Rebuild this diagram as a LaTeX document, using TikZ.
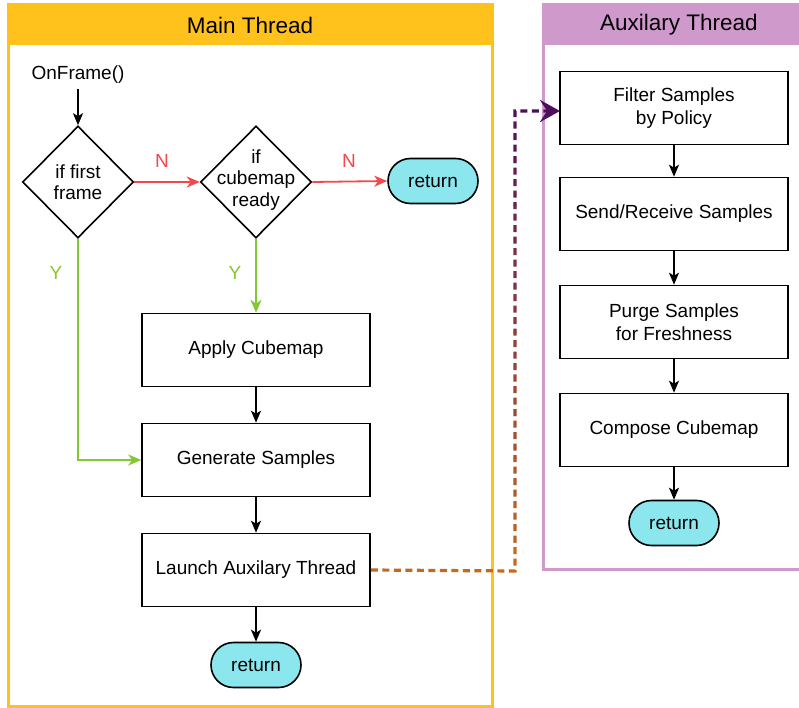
\documentclass[tikz,border=0pt]{standalone}
\usepackage{fontspec}
\setmainfont{Liberation Sans}
\usetikzlibrary{shapes.geometric,shapes.misc,arrows.meta}
\definecolor{mainyel}{HTML}{FFC21C}
\definecolor{auxpink}{HTML}{D099CB}
\definecolor{retcyan}{HTML}{8BE6EE}
\definecolor{nred}{HTML}{F5474B}
\definecolor{ygreen}{HTML}{82C832}
\definecolor{dashA}{HTML}{C46A1E}
\definecolor{dashB}{HTML}{4E0E5C}
\begin{document}
\begin{tikzpicture}[x=1pt,y=-1pt,
  font=\fontsize{19}{23}\selectfont,
  box/.style={draw, line width=1.6pt, minimum width=228pt, minimum height=73pt, align=center, inner sep=0pt},
  ret/.style={draw, line width=1.6pt, fill=retcyan, rounded rectangle, minimum width=90pt, minimum height=45pt, inner sep=0pt},
  dia/.style={draw, diamond, line width=1.6pt, minimum width=111pt, minimum height=112pt, inner sep=0pt},
  diatext/.style={align=center, font=\fontsize{19}{21.5}\selectfont, inner sep=0pt},
  head/.style={font=\fontsize{22.5}{26}\selectfont},
  flow/.style={line width=1.8pt, -{Stealth[length=12pt,width=10pt,inset=3pt]}},
  nflow/.style={line width=1.8pt, nred, -{Stealth[length=13pt,width=11pt,inset=4pt]}},
  yflow/.style={line width=1.8pt, ygreen, -{Stealth[length=13pt,width=11pt,inset=4pt]}},
  lbl/.style={font=\fontsize{19}{23}\selectfont, inner sep=0pt},
  dconn/.style={line width=3.2pt, dash pattern=on 7pt off 4.5pt},
]
\useasboundingbox (0,0) rectangle (799,708);
\fill[white] (0,0) rectangle (799,708);

% lanes
\fill[mainyel] (8,5) rectangle (492,45);
\draw[mainyel, line width=3pt] (8,5) rectangle (492,706);
\node[head] (mainhd) at (250,25) {Main Thread};

\fill[auxpink] (543,5) rectangle (799,45);
\draw[auxpink, line width=3pt] (543,5) rectangle (812,569);
\node[head] (auxhd) at (679,25) {Auxilary Thread};

% main thread nodes
\node[lbl] (onf) at (78,75) {OnFrame()};
\coordinate (onfs) at (78,89);
\node[dia] (d1) at (78,182) {};
\node[diatext] (d1t) at (78,182) {if first\\frame};
\node[dia] (d2) at (256,182) {};
\node[diatext] (d2t) at (256,180) {if\\cubemap\\ready};
\node[ret] (ret1) at (433,181) {return};
\node[box] (apply) at (256,350) {Apply Cubemap};
\node[box] (gen) at (256,460) {Generate Samples};
\node[box] (launch) at (256,570) {Launch Auxilary Thread};
\node[ret] (ret2) at (256,665) {return};

% aux thread nodes
\node[box] (filter) at (674,108) {Filter Samples\\by Policy};
\node[box] (send) at (674,214) {Send/Receive Samples};
\node[box] (purge) at (674,322) {Purge Samples\\for Freshness};
\node[box] (compose) at (674,430) {Compose Cubemap};
\node[ret] (ret3) at (674,523) {return};

% connectors main
\draw[flow] (onfs) -- (d1.north);
\draw[nflow] (d1.east) -- (d2.west);
\node[lbl, text=nred] (n1) at (162,161) {N};
\draw[nflow] (d2.east) -- (ret1.west);
\node[lbl, text=nred] (n2) at (349,161) {N};
\draw[yflow] (d1.south) |- (gen.west);
\node[lbl, text=ygreen] (y1) at (56,273) {Y};
\draw[yflow] (d2.south) -- (apply.north);
\node[lbl, text=ygreen] (y2) at (235,273) {Y};
\draw[flow] (apply.south) -- (gen.north);
\draw[flow] (gen.south) -- (launch.north);
\draw[flow] (launch.south) -- (ret2.north);

% connectors aux
\draw[flow] (filter.south) -- (send.north);
\draw[flow] (send.south) -- (purge.north);
\draw[flow] (purge.south) -- (compose.north);
\draw[flow] (compose.south) -- (ret3.north);

% dashed cross-thread connector with colour gradient
\coordinate (c1) at (515,571);
\coordinate (c2) at (515,111);
\coordinate (c3) at (560,111);
\foreach \i in {0,...,11}{
  \pgfmathsetmacro\ya{80+42*\i}
  \pgfmathsetmacro\yb{122+42*\i}
  \pgfmathtruncatemacro\t{100-100*\i/11}
  \begin{scope}
    \clip (360,\ya) rectangle (600,\yb);
    \draw[dconn, dashB!\t!dashA, -{Stealth[length=20pt,width=22pt,inset=7pt]}] (launch.east) -- (c1) -- (c2) -- (c3);
  \end{scope}
}
\end{tikzpicture}
\end{document}
